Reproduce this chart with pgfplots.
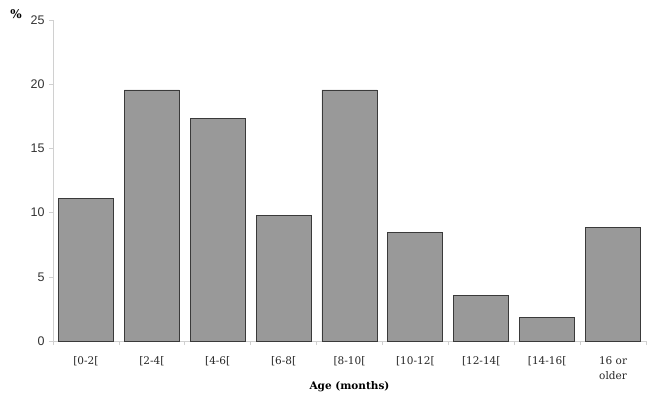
\documentclass[border=0pt]{standalone}
\usepackage{fontspec}
\setmainfont{DejaVu Serif}
\newfontfamily\ysans{Liberation Sans}
\usepackage{pgfplots}
\pgfplotsset{compat=1.18}
\definecolor{barfill}{HTML}{999999}
\definecolor{baredge}{HTML}{3A3A3A}
\definecolor{axgray}{HTML}{D0D0D0}
\begin{document}
\begin{tikzpicture}
\begin{axis}[
  at={(0,0)}, anchor=south west,
  scale only axis, width=593pt, height=321pt,
  xmin=-0.5, xmax=8.5, ymin=0, ymax=25,
  axis x line*=bottom, axis y line*=left,
  axis line style={axgray, line width=0.6pt},
  ytick={0,5,...,25},
  /pgf/number format/assume math mode=true,
  yticklabel style={font=\ysans\fontsize{12.5}{14}\selectfont, text=black!80, xshift=-1pt},
  xtick={0,...,8},
  xticklabels={{[0-2[},{[2-4[},{[4-6[},{[6-8[},{[8-10[},{[10-12[},{[12-14[},{[14-16[},{16 or\\older}},
  xticklabel style={font=\fontsize{10.5}{15}\selectfont, align=center, anchor=north, yshift=-8pt, text=black!85},
  major x tick style={draw=none},
  minor xtick={-0.5,0.5,...,8.5},
  tick align=outside,
  tick style={axgray, line width=0.6pt},
  major tick length=4pt, minor tick length=4pt,
  xlabel={\textbf{Age (months)}},
  xlabel style={font=\fontsize{10.5}{12}\selectfont, yshift=5pt},
  clip=false,
]
\addplot[ybar, bar width=0.835, fill=barfill, draw=baredge, line width=0.8pt]
  coordinates {(0,11.1) (1,19.55) (2,17.3) (3,9.75) (4,19.55) (5,8.45) (6,3.55) (7,1.8) (8,8.85)};
\node[font=\bfseries\fontsize{12}{14}\selectfont] at ([xshift=-37pt,yshift=6pt]rel axis cs:0,1) {\%};
\end{axis}
\useasboundingbox (-53pt,-67pt) rectangle (602pt,341pt);
\end{tikzpicture}
\end{document}
